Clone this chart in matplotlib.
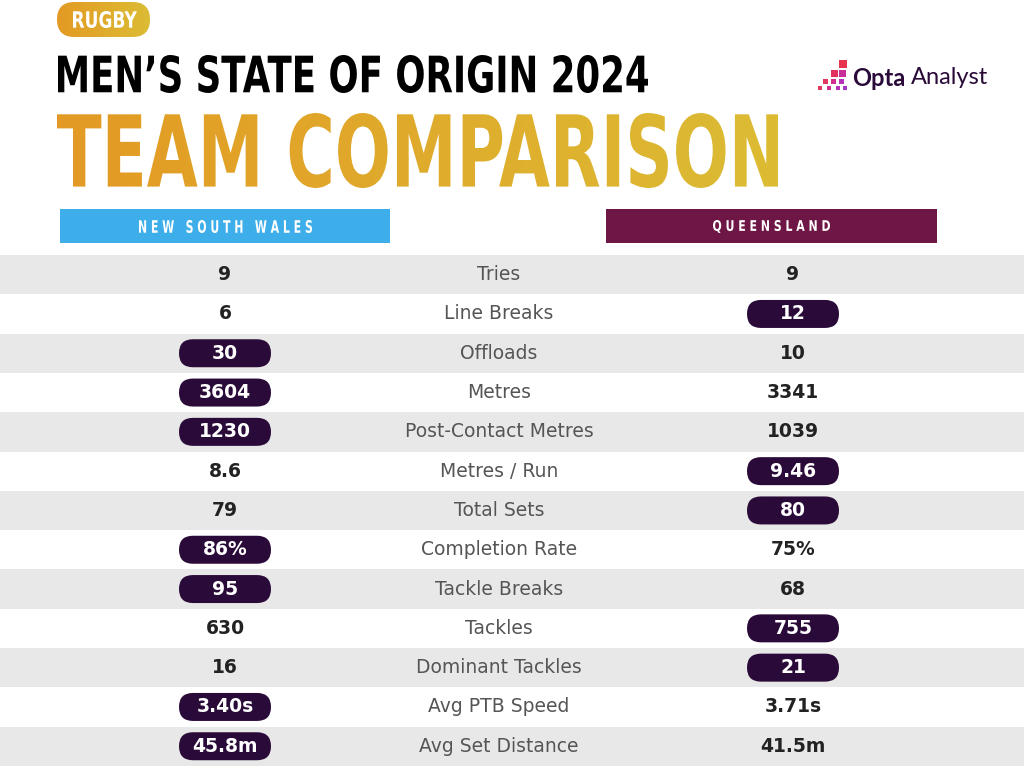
import numpy as np
import matplotlib
matplotlib.use('Agg')
import matplotlib.pyplot as plt
from matplotlib.patches import FancyBboxPatch, Rectangle, PathPatch
from matplotlib.textpath import TextPath
from matplotlib.font_manager import FontProperties
from matplotlib.transforms import Affine2D
from matplotlib.colors import LinearSegmentedColormap

metrics = ['Tries', 'Line Breaks', 'Offloads', 'Metres', 'Post-Contact Metres',
           'Metres / Run', 'Total Sets', 'Completion Rate', 'Tackle Breaks',
           'Tackles', 'Dominant Tackles', 'Avg PTB Speed', 'Avg Set Distance']
nsw = ['9', '6', '30', '3604', '1230', '8.6', '79', '86%', '95', '630', '16', '3.40s', '45.8m']
qld = ['9', '12', '10', '3341', '1039', '9.46', '80', '75%', '68', '755', '21', '3.71s', '41.5m']
# which side gets the highlight pill
leader = ['', 'R', 'L', 'L', 'L', 'R', 'R', 'L', 'L', 'R', 'R', 'L', 'L']

W, H = 1024, 767
fig = plt.figure(figsize=(W / 100, H / 100), dpi=100)
ax = fig.add_axes([0, 0, 1, 1])
ax.set_xlim(0, W)
ax.set_ylim(H, 0)
ax.axis('off')

gold = LinearSegmentedColormap.from_list('gold', ['#e39a24', '#dcbc34'])
pill_col = '#2a0a38'


def gradient_fill(patch, x0, x1, y0, y1, cmap, z):
    grad = np.linspace(0, 1, 256).reshape(1, -1)
    im = ax.imshow(grad, cmap=cmap, extent=(x0, x1, y1, y0), aspect='auto', zorder=z)
    im.set_clip_path(patch)


def box_text(s, x0, x1, y0, y1, prop, color=None, cmap=None, z=5):
    # squeeze a text path into the pixel box (x0..x1, y0 top..y1 bottom)
    tp = TextPath((0, 0), s, prop=prop)
    ext = tp.get_extents()
    sx = (x1 - x0) / ext.width
    sy = (y1 - y0) / ext.height
    tr = Affine2D().translate(-ext.x0, -ext.y0).scale(sx, -sy).translate(x0, y1)
    path = tr.transform_path(tp)
    if cmap is None:
        ax.add_patch(PathPatch(path, fc=color, ec='none', zorder=z))
    else:
        patch = PathPatch(path, fc='none', ec='none')
        ax.add_patch(patch)
        gradient_fill(patch, x0, x1, y0, y1, cmap, z)


def pill(xc, yc, w, h, color, z=2):
    ax.add_patch(FancyBboxPatch((xc - w / 2, yc - h / 2), w, h,
                                boxstyle='round,pad=0,rounding_size=%f' % (h / 2),
                                fc=color, ec='none', zorder=z))


heavy = FontProperties(family='DejaVu Sans', weight='bold')

# RUGBY tag
tag = FancyBboxPatch((57, 2), 93, 35, boxstyle='round,pad=0,rounding_size=17.5',
                     fc='none', ec='none')
ax.add_patch(tag)
gradient_fill(tag, 57, 150, 2, 37, gold, 2)
box_text('RUGBY', 73, 137, 11, 28, heavy, color='white')

# titles
box_text('MEN\u2019S STATE OF ORIGIN 2024', 58, 648, 55, 93, heavy, color='black')
box_text('TEAM COMPARISON', 57, 778, 113, 188, heavy, cmap=gold)

# Opta Analyst logo
squares = [(839, 60, 8, '#e8334f'), (831, 70, 7, '#e3305e'), (839, 70, 7, '#c82e9a'),
           (823, 79, 5, '#e2385f'), (831, 79, 5, '#d02f8d'), (839, 79, 5, '#b531b8'),
           (818, 86, 4, '#e03a60'), (827, 86, 4, '#d13090'), (836, 86, 4, '#b832b5'),
           (843, 86, 4, '#a838c8')]
for sx_, sy_, sz, c in squares:
    ax.add_patch(Rectangle((sx_, sy_), sz, sz, fc=c, ec='none'))
ax.text(852, 78, 'Opta', fontsize=17, fontweight='bold', color='#2a0a38',
        va='center', ha='left', family='Lato')
ax.text(911, 78, 'Analyst', fontsize=17, color='#2a0a38', va='center', ha='left',
        family='Lato')

# team headers
ax.add_patch(Rectangle((60, 209), 330, 34, fc='#3daee9', ec='none'))
ax.add_patch(Rectangle((606, 209), 331, 34, fc='#6e1645', ec='none'))
box_text('N E W   S O U T H   W A L E S', 139, 312, 220, 233, heavy, color='white')
box_text('Q U E E N S L A N D', 713, 830, 220, 233, heavy, color='white')

# rows
top, rh = 255, 39.3
for i, m in enumerate(metrics):
    yc = top + rh * i + rh / 2
    if i % 2 == 0:
        ax.add_patch(Rectangle((0, top + rh * i), W, rh, fc='#e8e8e8', ec='none', zorder=1))
    ax.text(499, yc, m, fontsize=13.5, color='#555555', ha='center', va='center', zorder=4)
    for xc, val, side in [(225, nsw[i], 'L'), (793, qld[i], 'R')]:
        hl = leader[i] == side
        if hl:
            pill(xc, yc, 92, 28, pill_col)
        ax.text(xc, yc, val, fontsize=13.5, fontweight='bold',
                color='white' if hl else '#222222', ha='center', va='center', zorder=4)

fig.savefig('out.png', dpi=100)
